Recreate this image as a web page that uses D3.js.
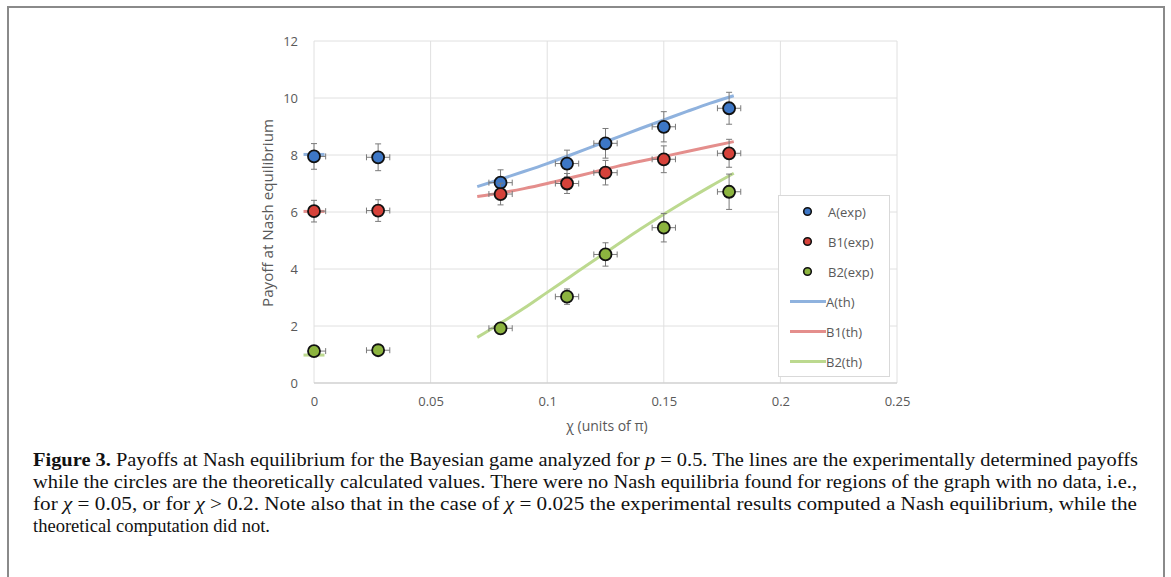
<!DOCTYPE html>
<html><head><meta charset="utf-8">
<script src="https://cdn.jsdelivr.net/npm/d3@7"></script>
<style>
html,body{margin:0;padding:0;background:#fff;}
svg{display:block;}
</style></head>
<body>
<svg id="chart" width="1171" height="577"></svg>
<script>
// ---- data ----
const xExp = [0, 0.0275, 0.08, 0.1085, 0.125, 0.15, 0.178];
const aExp = [7.95, 7.92, 7.03, 7.70, 8.41, 8.99, 9.64];
const b1Exp = [6.03, 6.05, 6.63, 7.00, 7.38, 7.85, 8.06];
const b2Exp = [1.12, 1.15, 1.92, 3.03, 4.51, 5.45, 6.71];
const aErr = [0.45, 0.47, 0.45, 0.47, 0.52, 0.53, 0.56];
const b1Err = [0.38, 0.38, 0.38, 0.35, 0.43, 0.47, 0.49];
const b2Err = [0.10, 0.10, 0.10, 0.27, 0.41, 0.50, 0.62];
const xErr = [0.005, 0.005, 0.005, 0.005, 0.005, 0.005, 0.005];

const xTh = [0.07, 0.08, 0.09, 0.10, 0.11, 0.12, 0.13, 0.14, 0.15, 0.16, 0.17, 0.18];
const aTh = [6.89, 7.15, 7.42, 7.70, 8.00, 8.31, 8.62, 8.93, 9.23, 9.53, 9.82, 10.08];
const b1Th = [6.54, 6.67, 6.82, 7.00, 7.20, 7.40, 7.60, 7.78, 7.95, 8.12, 8.30, 8.47];
const b2Th = [1.60, 2.10, 2.62, 3.18, 3.74, 4.30, 4.85, 5.40, 5.92, 6.42, 6.90, 7.36];
const xTh0 = [-0.0045, 0.0045];
const aTh0 = [8.02, 8.02];
const b1Th0 = [6.02, 6.02];
const b2Th0 = [0.98, 0.98];

const xTicks = [0, 0.05, 0.1, 0.15, 0.2, 0.25];
const xTickLabels = ["0", "0.05", "0.1", "0.15", "0.2", "0.25"];
const yTicks = [0, 2, 4, 6, 8, 10, 12];

const legendNames = ["A(exp)", "B1(exp)", "B2(exp)", "A(th)", "B1(th)", "B2(th)"];

// ---- drawing ----
const svg = d3.select("#chart");
const C = {
  a: "#3d77c6", b1: "#d6423a", b2: "#8cb43f",
  aL: "#8fb2de", b1L: "#e48e8c", b2L: "#bcd98f",
  grid: "#e0e0e0", tick: "#595959", err: "#7a7a7a"
};
const FONT = "'Open Sans', 'DejaVu Sans', sans-serif";

// frame
svg.append("path").attr("d", "M8,577 V7 H1164 V577")
  .attr("fill", "none").attr("stroke", "#8a8a8a").attr("stroke-width", 2);

const x = d3.scaleLinear().domain([0, 0.25]).range([314, 897]);
const y = d3.scaleLinear().domain([0, 12]).range([383, 41]);

// gridlines
const gx = svg.append("g");
gx.selectAll("line.v").data(xTicks.slice(1)).join("line")
  .attr("x1", d => x(d)).attr("x2", d => x(d)).attr("y1", y(0)).attr("y2", y(12))
  .attr("stroke", C.grid).attr("stroke-width", 1);
gx.selectAll("line.h").data(yTicks.slice(1)).join("line")
  .attr("x1", x(0)).attr("x2", x(0.25)).attr("y1", d => y(d)).attr("y2", d => y(d))
  .attr("stroke", C.grid).attr("stroke-width", 1);
svg.append("line").attr("x1", x(0)).attr("x2", x(0)).attr("y1", y(0)).attr("y2", y(12))
  .attr("stroke", C.grid).attr("stroke-width", 1);
svg.append("line").attr("x1", x(0)).attr("x2", x(0.25)).attr("y1", y(0)).attr("y2", y(0))
  .attr("stroke", "#d0d0d0").attr("stroke-width", 1.5);

// axes tick labels via d3 axes
const xAxis = d3.axisBottom(x).tickValues(xTicks).tickFormat((d, i) => xTickLabels[i]).tickSize(0).tickPadding(14);
const gxa = svg.append("g").attr("transform", `translate(0,${y(0)})`).call(xAxis);
gxa.select(".domain").remove();
gxa.selectAll("text").attr("fill", C.tick).style("font-family", FONT).style("font-size", "13px");

const yAxis = d3.axisLeft(y).tickValues(yTicks).tickFormat(d3.format("d")).tickSize(0).tickPadding(16);
const gya = svg.append("g").attr("transform", `translate(${x(0)},0)`).call(yAxis);
gya.select(".domain").remove();
gya.selectAll("text").attr("fill", C.tick).style("font-family", FONT).style("font-size", "13px");

// axis titles
svg.append("text").attr("x", 607).attr("y", 431).attr("text-anchor", "middle")
  .attr("fill", C.tick).style("font-family", FONT).style("font-size", "14px")
  .text("χ (units of π)");
svg.append("text").attr("transform", `translate(273,${(y(0) + y(12)) / 2 + 1}) rotate(-90)`)
  .attr("text-anchor", "middle").attr("fill", C.tick)
  .style("font-family", FONT).style("font-size", "15px")
  .attr("textLength", 188).attr("lengthAdjust", "spacingAndGlyphs")
  .text("Payoff at Nash equilibrium");

// theory lines
const line = d3.line().x(d => x(d[0])).y(d => y(d[1])).curve(d3.curveMonotoneX);
const thSeries = [
  {xs: xTh, ys: aTh, c: C.aL}, {xs: xTh, ys: b1Th, c: C.b1L}, {xs: xTh, ys: b2Th, c: C.b2L},
  {xs: xTh0, ys: aTh0, c: C.aL}, {xs: xTh0, ys: b1Th0, c: C.b1L}, {xs: xTh0, ys: b2Th0, c: C.b2L}
];
thSeries.forEach(s => {
  svg.append("path").datum(s.xs.map((v, i) => [v, s.ys[i]]))
    .attr("d", line).attr("fill", "none").attr("stroke", s.c)
    .attr("stroke-width", 3).attr("stroke-linecap", "butt");
});

// experimental points with error bars
const expSeries = [
  {ys: aExp, e: aErr, c: C.a}, {ys: b1Exp, e: b1Err, c: C.b1}, {ys: b2Exp, e: b2Err, c: C.b2}
];
const cap = 3;
expSeries.forEach(s => {
  const g = svg.append("g");
  const pts = xExp.map((v, i) => ({x: v, y: s.ys[i], e: s.e[i], xe: xErr[i]}));
  const eb = g.selectAll("g.eb").data(pts).join("g").attr("stroke", C.err).attr("stroke-width", 1).attr("fill", "none");
  eb.append("line").attr("x1", d => x(d.x)).attr("x2", d => x(d.x))
    .attr("y1", d => y(d.y + d.e)).attr("y2", d => y(d.y - d.e));
  eb.append("line").attr("x1", d => x(d.x) - cap).attr("x2", d => x(d.x) + cap)
    .attr("y1", d => y(d.y + d.e)).attr("y2", d => y(d.y + d.e));
  eb.append("line").attr("x1", d => x(d.x) - cap).attr("x2", d => x(d.x) + cap)
    .attr("y1", d => y(d.y - d.e)).attr("y2", d => y(d.y - d.e));
  eb.append("line").attr("x1", d => x(Math.max(0, d.x - d.xe))).attr("x2", d => x(d.x + d.xe))
    .attr("y1", d => y(d.y)).attr("y2", d => y(d.y));
  eb.filter(d => d.x - d.xe >= 0).append("line").attr("x1", d => x(d.x - d.xe)).attr("x2", d => x(d.x - d.xe))
    .attr("y1", d => y(d.y) - cap).attr("y2", d => y(d.y) + cap);
  eb.append("line").attr("x1", d => x(d.x + d.xe)).attr("x2", d => x(d.x + d.xe))
    .attr("y1", d => y(d.y) - cap).attr("y2", d => y(d.y) + cap);
  g.selectAll("circle").data(pts).join("circle")
    .attr("cx", d => x(d.x)).attr("cy", d => y(d.y)).attr("r", 6)
    .attr("fill", s.c).attr("stroke", "#111").attr("stroke-width", 1.8);
});

// legend
const lg = svg.append("g");
lg.append("rect").attr("x", 778.5).attr("y", 195.5).attr("width", 111).attr("height", 181)
  .attr("fill", "#fff").attr("stroke", "#d9d9d9").attr("stroke-width", 1);
const legendColors = [C.a, C.b1, C.b2, C.aL, C.b1L, C.b2L];
legendNames.forEach((n, i) => {
  const cy = 211.5 + i * 30;
  if (i < 3) {
    lg.append("circle").attr("cx", 807.5).attr("cy", cy).attr("r", 3.8)
      .attr("fill", legendColors[i]).attr("stroke", "#111").attr("stroke-width", 1.6);
    lg.append("text").attr("x", 828).attr("y", cy + 5).attr("fill", C.tick)
      .style("font-family", FONT).style("font-size", "13px").text(n);
  } else {
    lg.append("line").attr("x1", 790).attr("x2", 826).attr("y1", cy).attr("y2", cy)
      .attr("stroke", legendColors[i]).attr("stroke-width", 3);
    lg.append("text").attr("x", 826).attr("y", cy + 5).attr("fill", C.tick)
      .style("font-family", FONT).style("font-size", "13px").text(n);
  }
});

// caption
const SERIF = "'Liberation Serif', 'DejaVu Serif', serif";
const capG = svg.append("g").style("font-family", SERIF).style("font-size", "18.5px").attr("fill", "#111");
function capLine(yPos, parts, width) {
  const t = capG.append("text").attr("x", 33).attr("y", yPos);
  parts.forEach(p => {
    const ts = t.append("tspan").text(p.t);
    if (p.b) ts.style("font-weight", "bold");
    if (p.i) ts.style("font-style", "italic");
  });
  if (width) t.attr("textLength", width).attr("lengthAdjust", "spacingAndGlyphs");
}
capLine(466, [{t: "Figure 3.", b: true}, {t: " Payoffs at Nash equilibrium for the Bayesian game analyzed for "},
  {t: "p", i: true}, {t: " = 0.5. The lines are the experimentally determined payoffs"}], 1105);
capLine(488, [{t: "while the circles are the theoretically calculated values. There were no Nash equilibria found for regions of the graph with no data, i.e.,"}], 1104);
capLine(510, [{t: "for "}, {t: "χ", i: true}, {t: " = 0.05, or for "}, {t: "χ", i: true}, {t: " > 0.2. Note also that in the case of "},
  {t: "χ", i: true}, {t: " = 0.025 the experimental results computed a Nash equilibrium, while the"}], 1104);
capLine(532, [{t: "theoretical computation did not."}], 237);
</script>
</body></html>
